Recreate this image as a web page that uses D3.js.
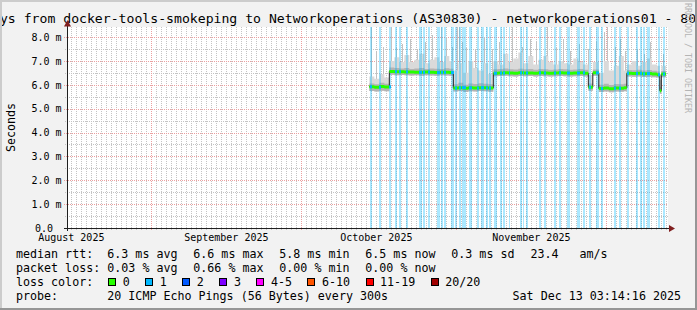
<!DOCTYPE html>
<html><head><meta charset="utf-8">
<script src="https://cdn.jsdelivr.net/npm/d3@7"></script>
<style>
html,body{margin:0;padding:0;background:#f2f2f2;}
svg{display:block;font-family:"DejaVu Sans Mono",monospace;}
</style>
</head><body><div id="chart"></div>
<script>
// ---------------- DATA ----------------
const titleText = "Last 120 Days from docker-tools-smokeping to Networkoperations (AS30830) - networkoperations01 - 80";
const yAxisTitle = "Seconds";
const yTickVals = [0, 1, 2, 3, 4, 5, 6, 7, 8];
const yTickLabels = ["0.0", "1.0 m", "2.0 m", "3.0 m", "4.0 m", "5.0 m", "6.0 m", "7.0 m", "8.0 m"];
const monthStarts = ["2025-08-01", "2025-09-01", "2025-10-01", "2025-11-01"];
const monthLabels = ["August 2025", "September 2025", "October 2025", "November 2025"];

// time samples: days since 2025-10-01 00:00 UTC
const sampleDays = [13.6, 14.6, 15.6, 16.6,
  17.6, 18.6, 19.6, 20.6, 21.6, 22.6, 23.6, 24.6, 25.6, 26.6, 27.6, 28.6, 29.6,
  30.4, 31.4, 32.4, 33.4, 34.4, 35.4, 36.4, 37.4,
  38.4, 39.4, 40.4, 41.4, 42.4, 43.4, 44.4, 45.4, 46.4, 47.4, 48.4, 49.4, 50.4, 51.4, 52.4, 53.4, 54.4, 55.4, 56.4,
  57.4, 58.3,
  59.5, 60.5, 61.5, 62.5, 63.5, 64.5,
  65.1, 66.1, 67.1, 68.1, 69.1, 70.1, 71.1,
  71.7, 72.0];
const dataEndDay = 72.94;
// median rtt (ms)
const medianMs = [5.92, 5.90, 5.93, 5.91,
  6.56, 6.55, 6.55, 6.54, 6.53, 6.52, 6.52, 6.53, 6.52, 6.51, 6.52, 6.52, 6.51,
  5.86, 5.88, 5.85, 5.87, 5.86, 5.88, 5.87, 5.86,
  6.48, 6.49, 6.50, 6.49, 6.48, 6.50, 6.49, 6.49, 6.48, 6.50, 6.49, 6.48, 6.49, 6.50, 6.49, 6.48, 6.49, 6.50, 6.48,
  5.90, 6.50,
  5.84, 5.86, 5.83, 5.86, 5.85, 5.87,
  6.48, 6.47, 6.48, 6.46, 6.47, 6.45, 6.42,
  5.75, 6.45];
// smoke: fastest ping
const smokeLo = [5.74, 5.72, 5.75, 5.73,
  6.42, 6.40, 6.41, 6.40, 6.39, 6.40, 6.38, 6.40, 6.39, 6.38, 6.40, 6.39, 6.38,
  5.72, 5.74, 5.70, 5.73, 5.72, 5.74, 5.73, 5.71,
  6.36, 6.37, 6.38, 6.36, 6.35, 6.37, 6.36, 6.37, 6.35, 6.37, 6.36, 6.35, 6.36, 6.37, 6.36, 6.35, 6.36, 6.37, 6.35,
  5.75, 6.38,
  5.70, 5.72, 5.69, 5.72, 5.71, 5.73,
  6.35, 6.34, 6.35, 6.33, 6.34, 6.32, 6.30,
  5.62, 6.32];
// smoke: dense part top
const smokeMid = [6.05, 6.02, 6.08, 6.04,
  6.72, 6.70, 6.68, 6.70, 6.66, 6.68, 6.70, 6.66, 6.68, 6.67, 6.66, 6.69, 6.67,
  6.02, 6.08, 6.00, 6.05, 6.03, 6.06, 6.04, 6.02,
  6.65, 6.66, 6.68, 6.65, 6.64, 6.67, 6.65, 6.66, 6.63, 6.66, 6.65, 6.63, 6.64, 6.66, 6.65, 6.63, 6.64, 6.66, 6.63,
  6.05, 6.64,
  6.00, 6.04, 5.99, 6.03, 6.02, 6.04,
  6.62, 6.61, 6.63, 6.60, 6.62, 6.59, 6.56,
  5.90, 6.58];
// smoke: light part top
const smokeHi = [6.35, 6.25, 6.45, 6.30,
  7.00, 7.15, 6.95, 7.25, 6.95, 7.05, 7.30, 6.90, 7.05, 7.15, 6.95, 7.20, 7.00,
  6.60, 6.90, 6.50, 7.00, 6.70, 6.60, 6.90, 6.45,
  7.00, 6.85, 7.30, 6.95, 7.10, 7.35, 6.90, 7.20, 6.85, 7.05, 7.20, 6.95, 6.85, 7.00, 6.90, 6.85, 7.10, 6.95, 6.85,
  6.40, 6.95,
  6.50, 7.00, 6.60, 6.80, 7.20, 6.60,
  6.85, 7.00, 6.80, 6.95, 7.10, 6.85, 6.80,
  6.20, 6.80];
// single slow pings (day, ms)
const spikeDays = [13.94, 14.94, 16.34, 17.94, 18.94, 20.14, 21.74, 23.14, 24.74, 26.14, 27.94, 28.94, 30.14, 31.14, 31.54, 32.14, 32.94, 34.74, 36.54, 38.14, 39.54, 40.74, 42.14, 44.14, 45.74, 46.94, 49.14, 50.94, 52.34, 53.74, 55.54, 57.34, 58.94, 60.54, 61.14, 62.74, 63.74, 64.74, 67.14, 68.54, 69.74, 72.34];
const spikeMs = [8.6, 7.4, 7.6, 8.6, 7.6, 7.7, 7.9, 7.5, 7.8, 8.1, 8.6, 8.0, 7.6, 8.6, 8.6, 7.8, 7.6, 7.5, 8.0, 7.5, 7.8, 7.3, 8.6, 7.6, 7.9, 7.8, 8.6, 7.6, 7.9, 7.4, 7.7, 7.5, 7.8, 8.2, 8.6, 7.6, 7.9, 7.4, 7.5, 7.3, 7.8, 7.3];
// packet-loss (1/20) periods: start day, duration in days
const lossStart = [13.74, 15.54, 17.54, 18.74, 19.54, 20.94, 23.54, 24.34, 25.34, 27.14, 27.94, 28.6, 29.94, 30.74, 31.54, 32.14, 33.54, 35.14, 35.94, 36.94, 37.6, 38.54, 39.74, 40.34, 41.54, 43.74, 44.34, 44.94, 47.54, 48.54, 50.54, 51.54, 53.14, 55.14, 56.34, 57.54, 58.94, 59.94, 62.54, 63.54, 65.14, 66.94, 67.74, 68.34, 69.14, 71.34, 72.34];
const lossDur = [0.4, 0.4, 0.4, 0.3, 0.4, 0.4, 0.5, 0.3, 0.3, 0.5, 0.3, 0.4, 0.6, 0.3, 0.3, 0.8, 0.5, 0.3, 0.5, 0.3, 0.4, 0.5, 0.4, 0.3, 0.2, 0.4, 0.2, 0.4, 0.4, 0.4, 0.4, 0.4, 0.5, 0.5, 0.4, 0.4, 0.5, 0.4, 0.3, 0.4, 0.4, 0.4, 0.4, 0.4, 0.6, 0.4, 0.4];

// legend
const statNames = ["avg", "max", "min", "now"];
const medianRtt = [6.3, 6.6, 5.8, 6.5];
const packetLoss = [0.03, 0.66, 0.00, 0.00];
const medianSd = 0.3;
const amPerS = 23.4;
const lossLabels = ["0", "1", "2", "3", "4-5", "6-10", "11-19", "20/20"];
const lossColors = ["#26ff00", "#00b8ff", "#0059ff", "#7e00ff", "#ff00ff", "#ff5500", "#ff0000", "#a00000"];
const probeText = "20 ICMP Echo Pings (56 Bytes) every 300s";
const stampText = "Sat Dec 13 03:14:16 2025";
const watermark = "RRDTOOL / TOBI OETIKER";

// ---------------- DRAW ----------------
const W = 697, H = 310;
const P = {left: 67, right: 667, top: 27, bottom: 228};
const tEnd = new Date(Date.UTC(2025, 11, 13, 3, 14, 16));
const tStart = new Date(+tEnd - 120 * 86400000);
const x = d3.scaleUtc().domain([tStart, tEnd]).range([P.left, P.right]);
const y = d3.scaleLinear().domain([0, 8.42]).range([P.bottom, P.top]);
const base = Date.UTC(2025, 9, 1);
const toDate = d => new Date(base + d * 86400000);
const xd = d => x(toDate(d));

const svg = d3.select("#chart").append("svg")
  .attr("width", W).attr("height", H).attr("viewBox", `0 0 ${W} ${H}`);
svg.append("rect").attr("width", W).attr("height", H).attr("fill", "#f2f2f2");

// title
const TF = 13.15, TW = TF * 0.6021;
svg.append("text").attr("x", -titleText.indexOf("ys from") * TW).attr("y", 23)
  .attr("font-size", TF).attr("fill", "#000").text(titleText);

// plot background
svg.append("rect").attr("x", P.left).attr("y", P.top).attr("width", P.right - P.left + 1)
  .attr("height", P.bottom - P.top).attr("fill", "#fff");

const grid = svg.append("g").attr("shape-rendering", "crispEdges");
// minor vertical (days)
const monthSet = new Set(d3.utcMonth.range(tStart, tEnd).map(d => +d));
d3.utcDay.range(d3.utcDay.ceil(tStart), tEnd).filter(d => !monthSet.has(+d)).forEach(d => {
  const xx = Math.round(x(d)) + 0.5;
  grid.append("line").attr("x1", xx).attr("x2", xx).attr("y1", P.top).attr("y2", P.bottom + 2)
    .attr("stroke", "#c4c4c4").attr("stroke-dasharray", "1,1");
});
// minor horizontal (0.5 steps)
d3.range(0.5, 8.42, 1).forEach(v => {
  const yy = Math.round(y(v)) + 0.5;
  grid.append("line").attr("x1", P.left - 2).attr("x2", P.right + 1).attr("y1", yy).attr("y2", yy)
    .attr("stroke", "#c4c4c4").attr("stroke-dasharray", "1,1");
});
// major horizontal
yTickVals.filter(v => v > 0).forEach(v => {
  const yy = Math.round(y(v)) + 0.5;
  grid.append("line").attr("x1", P.left - 3).attr("x2", P.right + 1).attr("y1", yy).attr("y2", yy)
    .attr("stroke", "#eba0a0").attr("stroke-dasharray", "1,1");
});
// major vertical (months)
d3.utcMonth.range(d3.utcMonth.ceil(tStart), tEnd).forEach(d => {
  const xx = Math.round(x(d)) + 0.5;
  grid.append("line").attr("x1", xx).attr("x2", xx).attr("y1", P.top).attr("y2", P.bottom + 3)
    .attr("stroke", "#eba0a0").attr("stroke-dasharray", "1,1");
});

// data series
const pts = sampleDays.map((d, i) => ({d, med: medianMs[i], lo: smokeLo[i], mid: smokeMid[i], hi: smokeHi[i]}));
pts.push(Object.assign({}, pts[pts.length - 1], {d: dataEndDay}));
const medianAt = day => medianMs[Math.max(0, d3.bisectRight(sampleDays, day) - 1)];

const plotG = svg.append("g");
const clip = svg.append("clipPath").attr("id", "pc");
clip.append("rect").attr("x", P.left).attr("y", P.top).attr("width", P.right - P.left + 1).attr("height", P.bottom - P.top);
plotG.attr("clip-path", "url(#pc)");

// spikes
spikeDays.forEach((d, i) => {
  const xx = Math.round(xd(d));
  plotG.append("rect").attr("x", xx).attr("width", 1)
    .attr("y", y(spikeMs[i])).attr("height", y(medianAt(d)) - y(spikeMs[i]))
    .attr("fill", "#c2c2c2").attr("shape-rendering", "crispEdges");
});
// smoke
const areaHi = d3.area().curve(d3.curveStepAfter).x(p => xd(p.d)).y0(p => y(p.lo)).y1(p => y(p.hi));
const areaMid = d3.area().curve(d3.curveStepAfter).x(p => xd(p.d)).y0(p => y(p.lo)).y1(p => y(p.mid));
plotG.append("path").attr("d", areaHi(pts)).attr("fill", "#dadada");
plotG.append("path").attr("d", areaMid(pts)).attr("fill", "#b4b4b4");

// loss background
lossStart.forEach((d, i) => {
  const x0 = Math.round(xd(d));
  const x1 = Math.max(x0 + 1, Math.round(xd(d + lossDur[i])));
  plotG.append("rect").attr("x", x0).attr("width", x1 - x0).attr("y", P.top).attr("height", P.bottom - P.top)
    .attr("fill", lossColors[1]).attr("fill-opacity", 0.33).attr("shape-rendering", "crispEdges");
});

// median line + colored band
const medLine = d3.line().curve(d3.curveStepAfter).x(p => xd(p.d)).y(p => y(p.med));
plotG.append("path").attr("d", medLine(pts)).attr("fill", "none").attr("stroke", "#202020").attr("stroke-width", 1);
const medBand = d3.area().curve(d3.curveStepAfter).x(p => xd(p.d)).y0(p => y(p.med) + 1.5).y1(p => y(p.med) - 1.5);
plotG.append("path").attr("d", medBand(pts)).attr("fill", lossColors[0]);
lossStart.forEach((d, i) => {
  const x0 = Math.round(xd(d));
  const x1 = Math.max(x0 + 1, Math.round(xd(d + lossDur[i])));
  const m = medianAt(d);
  plotG.append("rect").attr("x", x0).attr("width", x1 - x0).attr("y", y(m) - 1.5).attr("height", 3)
    .attr("fill", lossColors[1]);
});

// axes
const axG = svg.append("g");
axG.append("line").attr("x1", P.left + 0.5).attr("x2", P.left + 0.5).attr("y1", P.bottom + 3).attr("y2", 24)
  .attr("stroke", "#1f1f1f").attr("shape-rendering", "crispEdges");
axG.append("line").attr("x1", P.left - 3).attr("x2", P.right + 3).attr("y1", P.bottom + 0.5).attr("y2", P.bottom + 0.5)
  .attr("stroke", "#1f1f1f").attr("shape-rendering", "crispEdges");
axG.append("path").attr("d", `M${P.left + 0.5},20 L${P.left - 3},26.5 L${P.left + 4},26.5 Z`).attr("fill", "#801f1f");
axG.append("path").attr("d", `M${P.right + 8},${P.bottom + 0.5} L${P.right + 2},${P.bottom - 3} L${P.right + 2},${P.bottom + 4} Z`).attr("fill", "#801f1f");

// y tick labels
const AF = 10;
yTickVals.forEach((v, i) => {
  const lab = yTickLabels[i];
  svg.append("text").attr("x", lab.includes("m") ? 61.5 : 53).attr("y", y(v) + 3.8)
    .attr("text-anchor", "end").attr("font-size", AF).attr("fill", "#000").text(lab);
});
// month labels (centered half a month after the month start)
monthStarts.forEach((s, i) => {
  const d = d3.utcDay.offset(new Date(s + "T00:00:00Z"), 15);
  svg.append("text").attr("x", x(d)).attr("y", 241).attr("text-anchor", "middle")
    .attr("font-size", AF).attr("fill", "#000").text(monthLabels[i]);
});
// y axis title
svg.append("text").attr("transform", `translate(14.5,${(P.top + P.bottom) / 2}) rotate(-90)`)
  .attr("text-anchor", "middle").attr("font-size", 11.67).attr("fill", "#000").text(yAxisTitle);

// legend
const LF = 11.67, LW = LF * 0.6021;
const leg = svg.append("g").attr("font-size", LF).attr("fill", "#000");
const put = (xx, yy, s) => leg.append("text").attr("x", xx).attr("y", yy).attr("xml:space", "preserve").text(s);
const cols = [107.3, 193.3, 279.3, 365.3];
put(16, 258, "median rtt:");
medianRtt.forEach((v, i) => put(cols[i], 258, `${v.toFixed(1)} ms ${statNames[i]}`));
put(451.3, 258, `${medianSd.toFixed(1)} ms sd`);
put(530.5, 258, amPerS.toFixed(1));
put(579.5, 258, "am/s");
put(16, 272, "packet loss:");
packetLoss.forEach((v, i) => put(cols[i], 272, `${v.toFixed(2)} % ${statNames[i]}`));
put(16, 286, "loss color:");
let bx = 108.3;
lossLabels.forEach((lab, i) => {
  leg.append("rect").attr("x", Math.round(bx) + 0.5).attr("y", 278.5).attr("width", 7).attr("height", 7)
    .attr("fill", lossColors[i]).attr("stroke", "#000").attr("stroke-width", 1).attr("shape-rendering", "crispEdges");
  put(bx + 14.5, 286, lab);
  bx += lab.length * LW + 30;
});
put(16, 300, "probe:");
put(107.3, 300, probeText);
leg.append("text").attr("x", 681).attr("y", 300).attr("text-anchor", "end").text(stampText);

// watermark
svg.append("text").attr("transform", "translate(685,3) rotate(90)").attr("font-size", 8.3)
  .attr("fill", "#b4b4b4").text(watermark);

// 3D frame
const fr = svg.append("g").attr("shape-rendering", "crispEdges");
fr.append("rect").attr("x", 0).attr("y", 0).attr("width", W).attr("height", 2).attr("fill", "#cccccc");
fr.append("rect").attr("x", 0).attr("y", 0).attr("width", 2).attr("height", H).attr("fill", "#cccccc");
fr.append("rect").attr("x", 0).attr("y", H - 2).attr("width", W).attr("height", 2).attr("fill", "#969696");
fr.append("rect").attr("x", W - 2).attr("y", 0).attr("width", 2).attr("height", H).attr("fill", "#969696");
</script>
</body></html>
